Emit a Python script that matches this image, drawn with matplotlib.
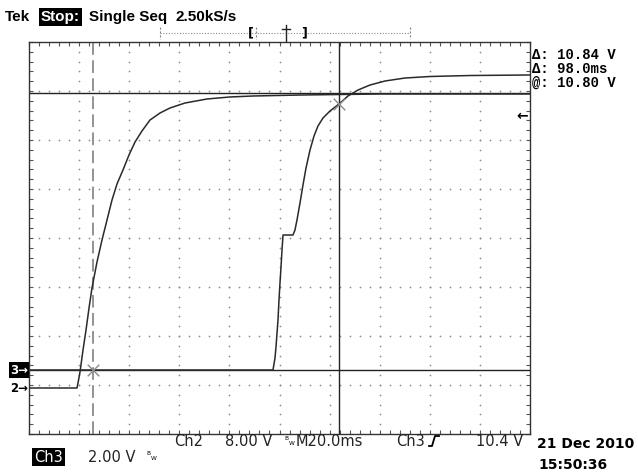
import numpy as np
import matplotlib.pyplot as plt

W, H = 638, 475

# Screen positions in divisions (10 across, 8 up from the bottom edge),
# read off the scope capture.
ch2_t = [0.0, 0.958, 0.978, 1.018, 1.078, 1.138, 1.198, 1.257, 1.357, 1.457,
         1.557, 1.657, 1.756, 1.876, 1.996, 2.116, 2.255, 2.415, 2.615, 2.814,
         3.114, 3.553, 4.012, 4.471, 5.409, 7.006, 10.0]
ch2_v = [0.939, 0.939, 1.041, 1.265, 1.714, 2.122, 2.571, 2.980, 3.510, 3.959,
         4.367, 4.776, 5.102, 5.388, 5.694, 5.959, 6.184, 6.408, 6.551, 6.653,
         6.755, 6.837, 6.878, 6.898, 6.918, 6.939, 6.939]

ch3_t = [0.0, 4.870, 4.910, 4.930, 4.970, 4.990, 5.010, 5.030, 5.050, 5.070,
         5.269, 5.309, 5.349, 5.409, 5.469, 5.529, 5.609, 5.689, 5.768, 5.868,
         6.008, 6.188, 6.367, 6.567, 6.806, 7.106, 7.505, 8.004, 8.802, 10.0]
ch3_v = [1.306, 1.306, 1.551, 1.776, 2.327, 2.735, 3.082, 3.408, 3.755, 4.061,
         4.061, 4.163, 4.367, 4.714, 5.082, 5.429, 5.796, 6.082, 6.286, 6.449,
         6.592, 6.735, 6.898, 7.020, 7.122, 7.204, 7.265, 7.296, 7.316, 7.327]

cursor_t = [1.277, 6.188]   # vertical cursors (dashed, solid)
cursor_v = [1.306, 6.959]   # horizontal cursors
marks_t = [1.277, 6.188]    # cursor / waveform crossings
marks_v = [1.306, 6.735]

readout = ['\u0394: 10.84 V', '\u0394: 98.0ms', '@: 10.80 V']

fig = plt.figure(figsize=(W / 100, H / 100), dpi=100)
fig.patch.set_facecolor('white')

ax = fig.add_axes([29 / W, 1 - 434 / H, 501 / W, 392 / H])
ax.set_xlim(0, 10)
ax.set_ylim(0, 8)

# pixel overlay for the scope decorations around the graticule
top = fig.add_axes([0, 0, 1, 1])
top.set_xlim(0, W)
top.set_ylim(H, 0)
top.axis('off')
top.set_zorder(3)

# dotted graticule, one dot every 1/5 division
sub = np.arange(0, 10.01, 0.2)
for k in range(1, 10):
    ax.scatter(np.full(41, k), np.arange(0, 8.01, 0.2), s=1.6, color='#909090', lw=0)
for k in range(1, 8):
    ax.scatter(sub, np.full(sub.shape, k), s=1.6, color='#909090', lw=0)

ax.set_xticks(sub)
ax.set_yticks(np.arange(0, 8.01, 0.2))
ax.tick_params(direction='in', length=3, width=0.8, color='#555555',
               top=True, right=True, labelbottom=False, labelleft=False)
for s in ax.spines.values():
    s.set_linewidth(1.0)
    s.set_color('#333333')

# cursors
ax.axvline(cursor_t[0], color='#8a8a8a', lw=1.3, dashes=(7, 3))
ax.axvline(cursor_t[1], color='#222222', lw=1.0)
for v in cursor_v:
    ax.axhline(v, color='#222222', lw=1.0)

# traces
ax.plot(ch2_t, ch2_v, color='#2a2a2a', lw=1.1)
ax.plot(ch3_t, ch3_v, color='#2a2a2a', lw=1.1)
ax.scatter(marks_t, marks_v, marker='x', s=70, color='#8a8a8a', lw=1.0, zorder=5)

inv = dict(boxstyle='square,pad=0.12', fc='black', ec='none')

def put(x, y, s, **kw):
    kw.setdefault('va', 'center')
    top.text(x, y, s, **kw)

# header
hdr = dict(fontsize=11, fontweight='bold', family='Liberation Sans')
put(5, 17, 'Tek', **hdr)
put(41, 17, 'Stop:', color='white', bbox=inv, **hdr)
put(89, 17, 'Single Seq', **hdr)
put(176, 17, '2.50kS/s', **hdr)

# record length bar
top.plot([160, 410], [33, 33], color='#8a8a8a', lw=0.8, ls=(0, (1, 1.5)))
top.plot([160, 160], [27, 39], color='#8a8a8a', lw=0.8, ls=(0, (2, 1.5)))
top.plot([410, 410], [27, 39], color='#8a8a8a', lw=0.8, ls=(0, (2, 1.5)))
top.plot([256, 256], [27, 39], color='#8a8a8a', lw=0.8, ls=(0, (2, 1.5)))
put(251, 33, '[', fontsize=9, fontweight='bold', ha='center')
put(304, 33, ']', fontsize=9, fontweight='bold', ha='center')
top.plot([286, 286], [25, 41], color='#222222', lw=1.0)
top.plot([282, 290], [29, 29], color='#222222', lw=1.0)

# right readout
for i, s in enumerate(readout):
    put(532, 55 + 14 * i, s, fontsize=10, fontweight='bold', family='Liberation Mono')
put(522, 116, '\u2190', fontsize=10, fontweight='bold', ha='center')

# channel ground markers
put(10, 370, '3\u2192', fontsize=8.5, fontweight='bold', color='white', bbox=inv)
put(10, 388, '2\u2192', fontsize=8.5, fontweight='bold')

# bottom status line
bot = dict(fontsize=10.5, color='#222222')
put(174, 442, 'Ch2', **bot)
put(225, 442, '8.00 V', **bot)
put(284, 441, '$\\mathregular{^B{}_W}$', fontsize=6)
put(296, 442, 'M20.0ms', **bot)
put(396, 442, 'Ch3', **bot)
top.plot([429, 432, 435, 439], [446, 446, 436, 436], color='black', lw=1.3)
put(476, 442, '10.4 V', **bot)
put(34, 457, 'Ch3', fontsize=10.5, color='white', bbox=inv)
put(88, 457, '2.00 V', **bot)
put(146, 456, '$\\mathregular{^B{}_W}$', fontsize=6)
put(537, 444, '21 Dec 2010', fontsize=10, fontweight='bold')
put(538, 465, '15:50:36', fontsize=10, fontweight='bold')

fig.savefig('out.png', dpi=100)
